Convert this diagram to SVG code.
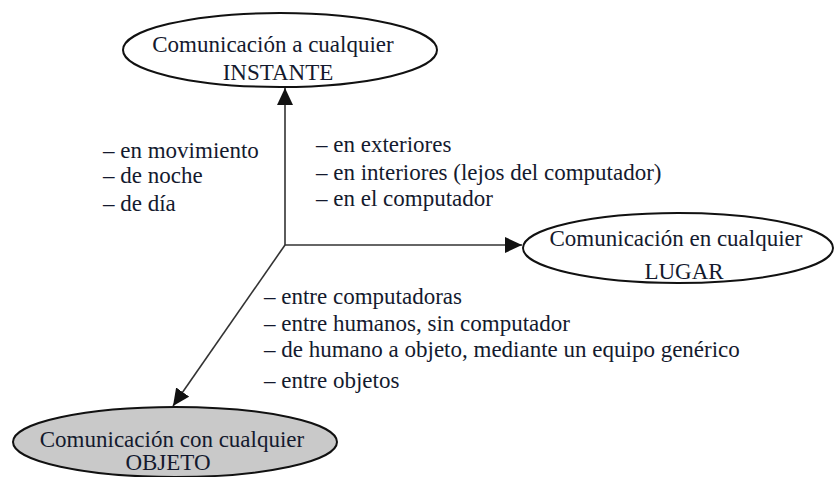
<svg xmlns="http://www.w3.org/2000/svg" width="834" height="477" viewBox="0 0 834 477">
<style>
text { font-family: "Liberation Serif", "Times New Roman", serif; font-size: 23px; fill: #141a2e; }
.node text { text-anchor: middle; }
.ell { stroke: #111; stroke-width: 2; }
.conn { stroke: #333; stroke-width: 1.6; fill: none; }
</style>
<defs>
<marker id="ah" markerUnits="userSpaceOnUse" markerWidth="18" markerHeight="16" refX="17" refY="8" orient="auto">
<path d="M0,0 L17,8 L0,16 z" fill="#111"/>
</marker>
</defs>
<rect width="834" height="477" fill="#fff"/>
<g id="connectors">
<line class="conn" x1="285" y1="245" x2="285" y2="88" marker-end="url(#ah)"/>
<line class="conn" x1="285" y1="245" x2="522" y2="245" marker-end="url(#ah)"/>
<line class="conn" x1="285" y1="245" x2="173" y2="406" marker-end="url(#ah)"/>
</g>
<g id="node-instante" class="node">
<ellipse class="ell" cx="280" cy="50" rx="157" ry="37" fill="#fff"/>
<text x="273" y="52">Comunicación a cualquier</text>
<text x="278" y="80">INSTANTE</text>
</g>
<g id="node-lugar" class="node">
<ellipse class="ell" cx="678" cy="248" rx="155" ry="35" fill="#fff"/>
<text x="676" y="246">Comunicación en cualquier</text>
<text x="684" y="279">LUGAR</text>
</g>
<g id="node-objeto" class="node">
<ellipse class="ell" cx="175" cy="442" rx="162" ry="35" fill="#c9c9c9"/>
<text x="172" y="447">Comunicación con cualquier</text>
<text x="168" y="470">OBJETO</text>
</g>
<g id="labels-instante">
<text x="103" y="158">– en movimiento</text>
<text x="103" y="183">– de noche</text>
<text x="103" y="211">– de día</text>
</g>
<g id="labels-lugar">
<text x="316" y="152">– en exteriores</text>
<text x="316" y="180">– en interiores (lejos del computador)</text>
<text x="316" y="206">– en el computador</text>
</g>
<g id="labels-objeto">
<text x="264" y="304">– entre computadoras</text>
<text x="264" y="331">– entre humanos, sin computador</text>
<text x="264" y="357">– de humano a objeto, mediante un equipo genérico</text>
<text x="264" y="388">– entre objetos</text>
</g>
</svg>
